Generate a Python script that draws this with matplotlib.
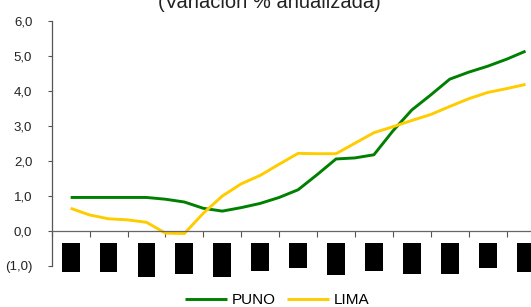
# plot.py
# PUNO vs LIMA, variacion % anualizada

import matplotlib
matplotlib.use("Agg")
import matplotlib.pyplot as plt
import numpy as np

# data
steps = [i * 0.5 for i in range(25)]   # position in category units
puno = [0.95, 0.95, 0.95, 0.95, 0.95, 0.90, 0.82, 0.64, 0.56, 0.66,
        0.78, 0.95, 1.17, 1.60, 2.05, 2.08, 2.17, 2.85, 3.45, 3.88,
        4.33, 4.53, 4.70, 4.90, 5.13]
lima = [0.64, 0.45, 0.34, 0.31, 0.24, -0.07, -0.08, 0.50, 0.99, 1.34,
        1.58, 1.90, 2.21, 2.20, 2.20, 2.50, 2.80, 2.97, 3.15, 3.32,
        3.55, 3.77, 3.95, 4.06, 4.18]
# the x labels come out as black blocks in the source
block_top = -0.34
block_bottom = [-1.17, -1.17, -1.33, -1.25, -1.31, -1.14, -1.06,
                -1.27, -1.14, -1.23, -1.23, -1.06, -1.17]
yticks = [-1, 0, 1, 2, 3, 4, 5, 6]
ylabels = ["(1,0)", "0,0", "1,0", "2,0", "3,0", "4,0", "5,0", "6,0"]

plt.rcParams['font.family'] = ['Liberation Sans', 'DejaVu Sans']

fig = plt.figure(figsize=(5.31, 3.07), dpi=100)
ax = fig.add_axes([0.0974, 0.1345, 0.928, 0.798])

green = "#008000"
yellow = "#FFCC00"

ax.plot(steps, puno, color=green, lw=2.1, label="PUNO", solid_capstyle="butt")
ax.plot(steps, lima, color=yellow, lw=2.1, label="LIMA", solid_capstyle="butt")

cats = np.arange(len(block_bottom))
heights = [b - block_top for b in block_bottom]
ax.bar(cats, heights, bottom=block_top, width=0.47, color="black", clip_on=False)

ax.set_xlim(-0.5, 12.5)
ax.set_ylim(-1, 6)
ax.set_yticks(yticks)
ax.set_yticklabels(ylabels, fontsize=9.5, color="#222222")
ax.set_xticks(np.arange(-0.5, 13, 1.0))
ax.set_xticklabels([])

for s in ["top", "right"]:
    ax.spines[s].set_visible(False)
ax.spines["bottom"].set_position(("data", 0))
ax.spines["bottom"].set_color("#666666")
ax.spines["left"].set_color("#555555")
ax.spines["bottom"].set_linewidth(0.9)
ax.spines["left"].set_linewidth(0.9)
ax.tick_params(axis="x", direction="out", length=4, color="#555555")
ax.tick_params(axis="y", direction="out", length=3, color="#555555", pad=11)

fig.text(0.507, 0.973, "(Variación % anualizada)", ha="center", va="baseline",
         fontsize=14.5, color="#222222")

fig.legend(loc="center", bbox_to_anchor=(0.522, 0.022), ncol=2, frameon=False,
           fontsize=11, handlelength=2.7, columnspacing=0.8, handletextpad=0.3)

plt.savefig("out.png", dpi=100)
